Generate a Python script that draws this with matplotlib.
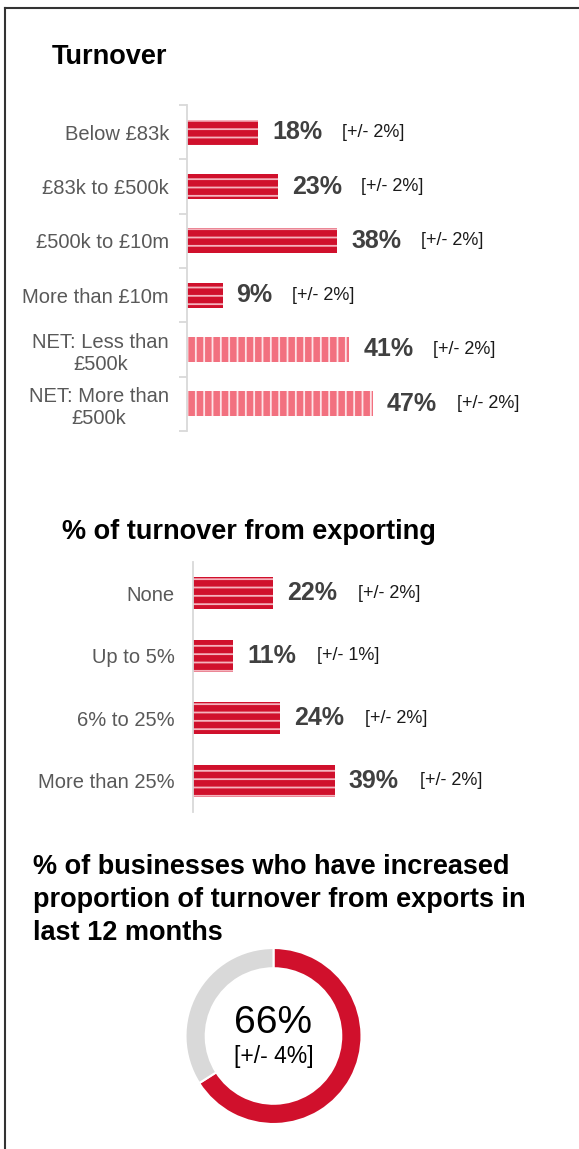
import matplotlib
matplotlib.use("Agg")
from matplotlib import pyplot as plt
from matplotlib.lines import Line2D
import numpy as np

plt.rcParams['font.family'] = ['Liberation Sans', 'DejaVu Sans']
plt.rcParams['hatch.linewidth'] = 1.3

# turnover bands
turnover_labels = ['Below £83k', '£83k to £500k', '£500k to £10m', 'More than £10m',
                   'NET: Less than\n£500k', 'NET: More than\n£500k']
turnover_vals = [18, 23, 38, 9, 41, 47]
turnover_err = [2, 2, 2, 2, 2, 2]
turnover_net = [False, False, False, False, True, True]

# share of turnover from exporting
export_labels = ['None', 'Up to 5%', '6% to 25%', 'More than 25%']
export_vals = [22, 11, 24, 39]
export_err = [2, 1, 2, 2]

# businesses that increased export share
increased_pct = 66
increased_err = 4

RED = '#D0102C'
RED_STRIPE = '#F5B3BD'
PINK = '#F2707F'
PINK_STRIPE = '#FDE3E7'
GREY = '#D9D9D9'
LABEL = '#595959'
VALUE = '#404040'

W, H = 579, 1149
fig = plt.figure(figsize=(W / 100, H / 100), dpi=100)


def px_axes(left, top, right, bottom):
    return fig.add_axes([left / W, 1 - bottom / H, (right - left) / W, (bottom - top) / H])


def bar_panel(ax, labels, vals, errs, net, px_per_pct, height, err_gap, ticks):
    n = len(labels)
    y = np.arange(n)
    for i in range(n):
        if net[i]:
            ax.barh(y[i], vals[i], height=height, color=PINK, edgecolor=PINK_STRIPE,
                    hatch='||', linewidth=0)
        else:
            ax.barh(y[i], vals[i], height=height, color=RED, edgecolor=RED_STRIPE,
                    hatch='--', linewidth=0)
        val_txt = ax.annotate('%d%%' % vals[i], xy=(vals[i], y[i]), xytext=(10, 0),
                              textcoords='offset points', va='center', ha='left',
                              fontsize=18, fontweight='bold', color=VALUE)
        ax.annotate('[+/- %d%%]' % errs[i], xy=(1, 0.5), xycoords=val_txt,
                    xytext=(err_gap, 0), textcoords='offset points',
                    va='center', ha='left', fontsize=13, color='#1a1a1a')

    width_px = ax.get_position().width * W
    ax.set_xlim(0, width_px / px_per_pct)
    ax.set_ylim(n - 0.5, -0.5)
    ax.set_yticks(y)
    ax.set_yticklabels(labels, fontsize=14.5, color=LABEL, multialignment='center')
    ax.tick_params(axis='y', which='major', length=0, pad=13)
    if ticks:
        ax.set_yticks(np.arange(n + 1) - 0.5, minor=True)
        ax.tick_params(axis='y', which='minor', length=6, width=1.3, color=GREY)
    ax.set_xticks([])
    for s in ['top', 'right', 'bottom']:
        ax.spines[s].set_visible(False)
    ax.spines['left'].set_color(GREY)
    ax.spines['left'].set_linewidth(1.3)


ax1 = px_axes(187, 105, W, 431)
bar_panel(ax1, turnover_labels, turnover_vals, turnover_err, turnover_net,
          3.96, 0.46, 14, True)

ax2 = px_axes(193, 562, W, 812)
bar_panel(ax2, export_labels, export_vals, export_err, [False] * 4,
          3.64, 0.51, 15, False)

# section headings
fig.text(52 / W, 1 - 64 / H, 'Turnover', fontsize=19.5, fontweight='bold', va='baseline')
fig.text(62 / W, 1 - 539 / H, '% of turnover from exporting', fontsize=19.5,
         fontweight='bold', va='baseline')
title3 = ['% of businesses who have increased',
          'proportion of turnover from exports in',
          'last 12 months']
for k, line in enumerate(title3):
    fig.text(33 / W, 1 - (874 + 33 * k) / H, line, fontsize=19.5,
             fontweight='bold', va='baseline')

# donut
cx, cy, r = 273.5, 1036, 88
ax3 = px_axes(cx - r, cy - r, cx + r, cy + r)
ax3.pie([increased_pct, 100 - increased_pct], colors=[RED, GREY], startangle=90,
        counterclock=False, radius=1,
        wedgeprops=dict(width=0.23, edgecolor='white', linewidth=1.5))
ax3.set_xlim(-1, 1)
ax3.set_ylim(-1, 1)
ax3.set_aspect('equal')
ax3.text(0, 0.15, '%d%%' % increased_pct, ha='center', va='center', fontsize=28)
ax3.text(0, -0.23, '[+/- %d%%]' % increased_err, ha='center', va='center', fontsize=16.5)

# panel frame (open on right and bottom)
fig.add_artist(Line2D([5 / W, 5 / W], [0, 1 - 8 / H], transform=fig.transFigure,
                      color='#333333', linewidth=1.5))
fig.add_artist(Line2D([5 / W, 1], [1 - 8 / H, 1 - 8 / H], transform=fig.transFigure,
                      color='#333333', linewidth=1.5))

fig.savefig('out.png', dpi=100)
